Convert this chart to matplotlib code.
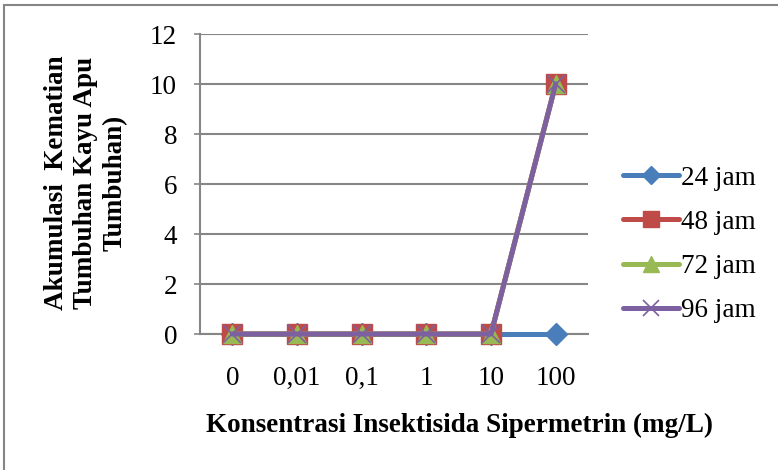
import matplotlib
matplotlib.use("Agg")
import matplotlib.pyplot as plt
from matplotlib.patches import Rectangle

categories = ["0", "0,01", "0,1", "1", "10", "100"]
series_names = ["24 jam", "48 jam", "72 jam", "96 jam"]
jam24 = [0, 0, 0, 0, 0, 0]
jam48 = [0, 0, 0, 0, 0, 10]
jam72 = [0, 0, 0, 0, 0, 10]
jam96 = [0, 0, 0, 0, 0, 10]
yticks = [0, 2, 4, 6, 8, 10, 12]

plt.rcParams['font.family'] = ['Liberation Serif', 'DejaVu Serif']

W, H = 778, 470
fig = plt.figure(figsize=(W / 100, H / 100), dpi=100)
ax = fig.add_axes([200 / W, 1 - 334 / H, 388 / W, 300 / H])

grid_c = "#868686"
colors = ["#4A7EBB", "#BE4B48", "#98B954", "#7D60A0"]
markers = ["D", "s", "^", "x"]
msizes = [11, 14, 13, 13]
x = list(range(len(categories)))
for vals, name, c, m, ms in zip([jam24, jam48, jam72, jam96], series_names, colors, markers, msizes):
    kw = dict(markeredgewidth=1.2) if m == "x" else dict(markeredgecolor=c)
    ax.plot(x, vals, color=c, lw=3.6, marker=m, markersize=ms, label=name,
            solid_capstyle="round", clip_on=False, zorder=3, **kw)

fs = 19.5
ax.set_xlim(-0.5, 5.5)
ax.set_ylim(0, 12)
ax.set_yticks(yticks)
ax.set_yticklabels([str(v) for v in yticks], fontsize=fs)
ax.set_xticks(x)
ax.set_xticklabels(categories, fontsize=fs)
ax.tick_params(axis='y', length=4.5, width=1.2, color=grid_c, pad=12)
ax.tick_params(axis='x', length=0, pad=23)
ax.yaxis.grid(True, color=grid_c, lw=1.5)
ax.set_axisbelow(True)
for s in ["top", "right"]:
    ax.spines[s].set_visible(False)
ax.spines["left"].set_color(grid_c)
ax.spines["left"].set_linewidth(1.5)
ax.spines["bottom"].set_color(grid_c)
ax.spines["bottom"].set_linewidth(1.5)

fig.text(86 / W, 1 - 183 / H, "Akumulasi  Kematian\nTumbuhan Kayu Apu\nTumbuhan)",
         rotation=90, ha="center", va="center", multialignment="center",
         fontsize=fs, fontweight="bold", linespacing=1.22)
fig.text(460 / W, 1 - 425 / H, "Konsentrasi Insektisida Sipermetrin (mg/L)",
         ha="center", va="center", fontsize=fs, fontweight="bold")

leg = ax.legend(loc="center left", bbox_to_anchor=(623 / W, 1 - 244.5 / H),
                bbox_transform=fig.transFigure, frameon=False, fontsize=fs,
                handlelength=2.05, handletextpad=0.1, labelspacing=0.71, borderpad=0,
                borderaxespad=0, markerscale=0.85)

fig.add_artist(Rectangle((4 / W, -0.05), 1.1, 1 - 5 / H + 0.05, transform=fig.transFigure,
                         fill=False, edgecolor=grid_c, lw=1.5, clip_on=False))

fig.savefig("out.png", dpi=100)
